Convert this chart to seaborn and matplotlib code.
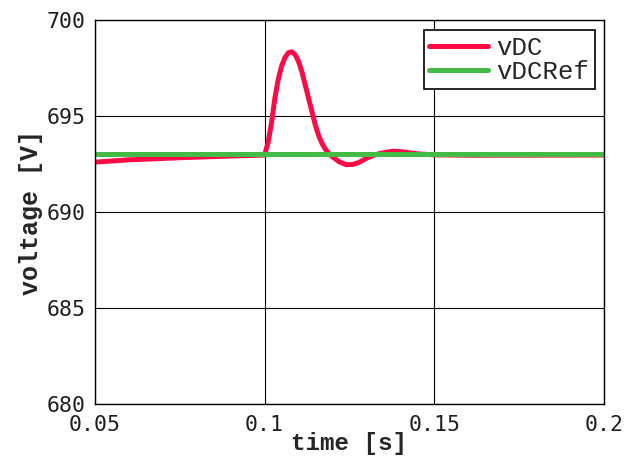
import matplotlib
matplotlib.use("Agg")
import matplotlib.pyplot as plt
import seaborn as sns
import pandas as pd

time_vdc = [0.050, 0.060, 0.075, 0.090, 0.100, 0.101, 0.102, 0.103, 0.104, 0.105,
            0.106, 0.107, 0.108, 0.109, 0.110, 0.111, 0.112, 0.113, 0.114, 0.115,
            0.116, 0.117, 0.118, 0.119, 0.120, 0.122, 0.124, 0.126, 0.128, 0.130,
            0.132, 0.134, 0.136, 0.138, 0.140, 0.143, 0.146, 0.150, 0.160, 0.200]
vdc = [692.60, 692.72, 692.83, 692.92, 692.97, 693.6, 694.6, 695.9, 696.9, 697.6,
       698.05, 698.3, 698.35, 698.2, 697.85, 697.3, 696.6, 695.9, 695.2, 694.5,
       693.95, 693.55, 693.25, 693.05, 692.88, 692.62, 692.47, 692.48, 692.6, 692.8,
       692.95, 693.05, 693.12, 693.17, 693.15, 693.08, 693.02, 692.98, 692.96, 692.97]
time_ref = [0.05, 0.2]
vdc_ref = [693.0, 693.0]

df = pd.concat([
    pd.DataFrame({"time": time_vdc, "voltage": vdc, "series": "vDC"}),
    pd.DataFrame({"time": time_ref, "voltage": vdc_ref, "series": "vDCRef"}),
])

sns.set_style("white")
fig = plt.figure(figsize=(6.29, 4.57), dpi=100)
ax = fig.add_axes([0.151, 0.116, 0.809, 0.840])

sns.lineplot(data=df, x="time", y="voltage", hue="series",
             palette={"vDC": "#ff0a47", "vDCRef": "#44bb44"},
             linewidth=3.6, ax=ax, estimator=None, sort=False)

ax.set_xlim(0.05, 0.2)
ax.set_ylim(680, 700)
ax.set_xticks([0.05, 0.1, 0.15, 0.2])
ax.set_xticklabels(["0.05", "0.1", "0.15", "0.2"])
ax.set_yticks([680, 685, 690, 695, 700])
ax.grid(True, color="black", linewidth=0.8)
ax.set_axisbelow(True)
for s in ax.spines.values():
    s.set_visible(True)
    s.set_color("black")
    s.set_linewidth(1.0)
ax.tick_params(axis="x", length=0, pad=8)
ax.tick_params(axis="y", length=0, pad=7)
for lab in ax.get_xticklabels() + ax.get_yticklabels():
    lab.set_fontfamily("DejaVu Sans Mono")
    lab.set_fontsize(15.5)
    lab.set_color("#1e1e1e")

ax.set_xlabel("time [s]", fontfamily="Liberation Mono", fontweight="bold", fontsize=17.5, labelpad=-2)
ax.set_ylabel("voltage [V]", fontfamily="Liberation Mono", fontweight="bold", fontsize=18, labelpad=2)

leg = ax.legend(loc="upper right", bbox_to_anchor=(0.982, 0.974), frameon=True, fancybox=False,
                edgecolor="black", framealpha=1, handlelength=2.3, handletextpad=0.3,
                borderpad=0.22, labelspacing=0.0, borderaxespad=0,
                prop={"family": "Liberation Mono", "size": 18.5})
leg.get_frame().set_linewidth(1.2)
for line in leg.get_lines():
    line.set_linewidth(3.6)

fig.savefig("out.png", dpi=100)
